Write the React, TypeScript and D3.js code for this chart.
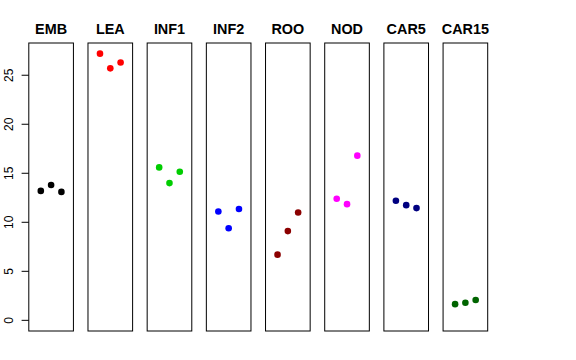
import React from "react";
import * as d3 from "d3";

// tissue panels, three replicates each
const tissues = ["EMB", "LEA", "INF1", "INF2", "ROO", "NOD", "CAR5", "CAR15"];
const colors = ["#000000", "#ff0000", "#00cd00", "#0000ff", "#8b0000", "#ff00ff", "#000080", "#006400"];
const rep1 = [13.2, 27.2, 15.6, 11.1, 6.7, 12.4, 12.2, 1.65];
const rep2 = [13.8, 25.7, 14.0, 9.4, 9.1, 11.85, 11.75, 1.8];
const rep3 = [13.1, 26.3, 15.15, 11.35, 11.0, 16.8, 11.45, 2.07];
const yTicks = [0, 5, 10, 15, 20, 25];

const W = 576;
const H = 360;

const App = () => {
  const yMax = d3.max([...rep1, ...rep2, ...rep3]) as number;
  const pad = yMax * 0.04;
  const y = d3.scaleLinear().domain([-pad, yMax + pad]).range([331, 43]);

  const panel = d3.scaleBand<string>()
    .domain(tissues)
    .range([28.8, 487.7])
    .paddingInner(0.246);

  const font = "'Liberation Sans', Arial, Helvetica, sans-serif";

  return (
    <svg width={W} height={H} style={{ position: "absolute", left: 0, top: 0 }}>
      <rect width={W} height={H} fill="#fff" />
      {/* y axis */}
      <g>
        {yTicks.map((t) => (
          <g key={t}>
            <line x1={21.6} x2={panel(tissues[0])} y1={y(t)} y2={y(t)} stroke="#000" />
            <text
              transform={`translate(13, ${y(t)}) rotate(-90)`}
              textAnchor="middle"
              fontFamily={font}
              fontSize={12}
            >
              {t}
            </text>
          </g>
        ))}
      </g>
      {tissues.map((name, i) => {
        const x0 = panel(name) as number;
        const bw = panel.bandwidth();
        const cx = x0 + bw / 2;
        const xs = d3.scalePoint<number>().domain([0, 1, 2]).range([cx - 10.3, cx + 10.3]);
        const vals = [rep1[i], rep2[i], rep3[i]];
        return (
          <g key={name}>
            <rect x={x0} y={y.range()[1]} width={bw} height={y.range()[0] - y.range()[1]} fill="none" stroke="#000" />
            <text
              x={cx}
              y={34.3}
              textAnchor="middle"
              fontFamily={font}
              fontWeight="bold"
              fontSize={14.4}
            >
              {name}
            </text>
            {vals.map((v, j) => (
              <circle key={j} cx={xs(j)} cy={y(v)} r={3.3} fill={colors[i]} />
            ))}
          </g>
        );
      })}
    </svg>
  );
};

export default App;
